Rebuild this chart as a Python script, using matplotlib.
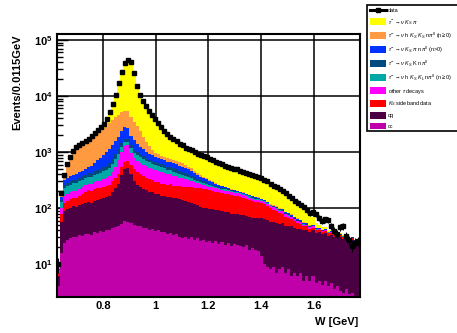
import matplotlib.pyplot as plt
import numpy as np
from matplotlib.ticker import MultipleLocator, LogLocator, FuncFormatter, NullFormatter
from matplotlib.patches import Patch, Rectangle
from matplotlib.lines import Line2D

plt.rcParams['font.family'] = ['Liberation Sans', 'DejaVu Sans']
plt.rcParams['mathtext.fontset'] = 'custom'
plt.rcParams['mathtext.rm'] = 'Liberation Sans'
plt.rcParams['mathtext.it'] = 'Liberation Sans:italic'
plt.rcParams['mathtext.bf'] = 'Liberation Sans:bold'

# binning: 100 bins of 0.0115 GeV
w_lo = 0.625
bin_w = 0.0115
n_bins = 100

# events per bin (stack order bottom -> top)
cc = [4, 16, 24, 27, 29, 31, 30, 33, 32, 34,
      35, 33, 37, 36, 39, 38, 41, 40, 44, 46,
      48, 53, 58, 56, 54, 51, 48, 47, 44, 45,
      41, 42, 39, 40, 37, 38, 35, 36, 33, 34,
      31, 29, 31, 28, 30, 27, 29, 26, 27, 25,
      26, 24, 26, 23, 25, 22, 24, 21, 23, 22,
      21, 20, 22, 18, 19, 18, 17, 14, 10, 9,
      8, 9, 7, 8, 9, 7, 8, 6, 7, 6,
      7, 5, 6, 5, 6, 4.5, 5, 4.2, 5, 4,
      4.5, 3.5, 4, 3.2, 3, 3.5, 2.8, 3, 2.6, 2.5]

qq = [2, 40, 65, 69, 72, 76, 74, 80, 85, 90,
      94, 92, 98, 104, 108, 112, 117, 125, 150, 180,
      222, 330, 440, 460, 360, 250, 210, 190, 175, 165,
      155, 150, 140, 138, 130, 128, 122, 125, 118, 115,
      112, 109, 104, 100, 96, 90, 86, 80, 73, 76,
      70, 72, 66, 68, 63, 64, 60, 58, 56, 57,
      53, 55, 51, 52, 49, 48, 50, 52, 55, 52,
      49, 47, 48, 44, 45, 41, 39, 41, 38, 37,
      36, 35, 35, 33, 34, 31, 32, 30, 31, 28,
      29, 27, 28, 27, 25, 26, 23, 24, 21, 22]

ks_sideband = [1, 22, 34, 37, 42, 46, 50, 55, 62, 70,
               80, 76, 82, 85, 80, 88, 87, 95, 110, 125,
               140, 150, 160, 165, 185, 195, 180, 165, 150, 140,
               130, 122, 112, 110, 106, 108, 102, 104, 100, 103,
               101, 102, 106, 110, 112, 115, 118, 120, 120, 115,
               112, 108, 105, 100, 98, 95, 92, 90, 86, 84,
               83, 78, 74, 70, 66, 63, 60, 57, 52, 48,
               42, 38, 34, 30, 26, 22, 19, 16, 13, 11,
               9, 7, 6, 5, 5, 4.5, 4, 4, 3.5, 3.5,
               3, 3, 2.5, 2.5, 2.5, 2, 2, 2, 2, 2.5]

other_tau = [0.5, 22, 40, 45, 48, 50, 52, 55, 58, 62,
             66, 70, 72, 78, 84, 92, 100, 118, 145, 200,
             300, 480, 650, 640, 380, 300, 270, 245, 225, 210,
             200, 192, 185, 175, 165, 155, 145, 138, 128, 118,
             108, 100, 88, 78, 66, 55, 46, 40, 37, 34,
             32, 30, 28, 27, 26, 25, 24, 22, 21, 20,
             19, 17, 15, 14, 13, 12, 12, 11, 11, 10,
             10, 9, 9, 8, 8, 7, 7, 6, 5, 4.5,
             4, 3.5, 3, 2.5, 2, 1.5, 1.2, 1, 1, 0.9,
             0.8, 0.8, 0.7, 0.7, 0.6, 0.6, 0.5, 0.5, 0.5, 0.5]

h_ks_kl = [0.3, 29, 65, 69, 72, 74, 76, 80, 84, 87,
           90, 95, 100, 108, 115, 125, 135, 150, 175, 205,
           230, 215, 195, 190, 188, 185, 175, 165, 155, 140,
           128, 118, 110, 102, 95, 88, 82, 76, 70, 62,
           56, 50, 45, 40, 36, 32, 28, 25, 23, 20,
           18, 16, 14, 13, 12, 11, 10, 9.5, 9, 8.5,
           8, 8, 7.5, 7.5, 7, 7, 6, 5, 4.5, 4,
           3, 3, 2.5, 2.5, 2.2, 2, 2, 1.8, 1.6, 1.4,
           1.2, 1, 1, 0.8, 0.7, 0.6, 0.5, 0.5, 0.4, 0.4,
           0.4, 0.3, 0.3, 0.3, 0.3, 0.3, 0.2, 0.2, 0.2, 0.2]

ks_k = [0.2, 9, 29, 33, 36, 38, 40, 43, 48, 53,
        58, 60, 63, 68, 72, 78, 85, 100, 130, 170,
        205, 215, 210, 200, 160, 130, 115, 105, 95, 88,
        82, 78, 75, 72, 70, 68, 66, 64, 62, 60,
        57, 55, 50, 45, 40, 35, 30, 26, 22, 19,
        16, 14, 12, 10, 9, 8, 7, 6, 5, 4.5,
        4, 4, 3.5, 3.5, 3, 3, 3, 2.5, 2.5, 2,
        2, 2, 2.5, 2.5, 3, 3, 3, 2.5, 2, 1.8,
        1.5, 1.2, 1, 0.8, 0.7, 0.5, 0.5, 0.5, 0.4, 0.4,
        0.4, 0.3, 0.3, 0.3, 0.3, 0.3, 0.2, 0.2, 0.2, 0.2]

ks_pi_npi0 = [0.2, 20, 59, 65, 72, 78, 84, 90, 98, 108,
              120, 145, 180, 230, 290, 360, 460, 520, 580, 650,
              720, 900, 1070, 1000, 650, 520, 420, 330, 270, 220,
              190, 170, 155, 145, 138, 132, 126, 120, 116, 112,
              108, 105, 98, 90, 80, 70, 60, 50, 43, 36,
              30, 24, 19, 15, 12, 10, 9, 8, 7, 6.5,
              6, 6, 6.5, 7, 7, 7, 6, 5, 4, 3,
              2, 2, 2.5, 3, 3, 3, 3, 2.5, 2.2, 2,
              1.8, 1.5, 1.5, 1.2, 1, 0.8, 0.5, 0.5, 0.4, 0.4,
              0.4, 0.3, 0.3, 0.3, 0.3, 0.3, 0.2, 0.2, 0.2, 0.2]

h_ks_ks = [1, 21, 56, 235, 390, 590, 750, 818, 890, 985,
           1040, 1230, 1360, 1480, 1640, 1750, 1830, 2150, 2450, 2650,
           2750, 2900, 2700, 2600, 2200, 1850, 1500, 1100, 750, 520,
           360, 240, 160, 140, 125, 115, 105, 100, 95, 90,
           85, 80, 70, 60, 50, 42, 35, 28, 22, 18,
           15, 12, 10, 8, 7, 6, 5, 4.5, 4, 3.5,
           3, 3, 2.5, 2.5, 2, 2, 2, 2, 2, 2,
           2, 2, 2, 2, 2, 2, 2, 2, 1.8, 1.8,
           1.6, 1.5, 1.5, 1.2, 1, 0.8, 0.6, 0.5, 0.4, 0.4,
           0.3, 0.3, 0.3, 0.3, 0.3, 0.2, 0.2, 0.2, 0.2, 0.2]

ks_pi = [0.8, 7, 17, 37, 52, 64, 74, 80, 88, 96,
         117, 149, 198, 266, 392, 517, 1035, 1832, 3456, 6244,
         12385, 21657, 33417, 38339, 36523, 22219, 12222, 8123, 6266, 5072,
         4084, 3458, 2914, 2388, 1954, 1538, 1307, 1097, 978, 856,
         752, 690, 608, 569, 560, 534, 501, 496, 484, 470,
         440, 424, 396, 367, 351, 334, 306, 294, 294, 284,
         271, 256, 245, 232, 223, 212, 199, 198, 183, 172,
         157, 139, 129, 124, 102, 99, 83, 73, 64, 60,
         53, 49, 36, 25, 18, 10, 6, 4, 3, 2,
         1.5, 1, 1, 1, 0.8, 0.8, 0.6, 0.6, 0.5, 0.5]

data = [10, 186, 389, 617, 813, 1047, 1230, 1334, 1445, 1585,
        1700, 1950, 2190, 2455, 2820, 3160, 3890, 5130, 7240, 10470,
        17000, 26900, 38900, 43650, 40700, 25700, 15140, 10470, 8130, 6600,
        5370, 4570, 3890, 3310, 2820, 2370, 2090, 1860, 1700, 1550,
        1410, 1320, 1200, 1120, 1070, 1000, 933, 891, 851, 813,
        759, 724, 676, 631, 603, 575, 537, 513, 505, 490,
        468, 447, 427, 407, 389, 372, 355, 347, 324, 302,
        275, 251, 237, 224, 200, 186, 166, 151, 135, 126,
        115, 105, 91, 81, 85, 78, 66, 59, 63, 62,
        48, 39, 35, 46, 48, 32, 27, 21, 24, 26]

components = [cc, qq, ks_sideband, other_tau, h_ks_kl, ks_k, ks_pi_npi0, h_ks_ks, ks_pi]
colors = ['#c000a8', '#4a0042', '#ff0000', '#ff00ff', '#00a8a8',
          '#004a80', '#0033ff', '#ff9a40', '#ffff00']
labels = ['cc', 'qq', r'$K_S$ sideband data', r'other $\tau$ decays',
          r'$\tau^-\!\rightarrow\nu$ h $K_S$ $K_L$ n$\pi^0$ (n$\geq$0)',
          r'$\tau^-\!\rightarrow\nu$ $K_S$ K n$\pi^0$',
          r'$\tau^-\!\rightarrow\nu$ $K_S$ $\pi$ n$\pi^0$ (n>0)',
          r'$\tau^-\!\rightarrow\nu$ h $K_S$ $K_S$ n$\pi^0$ (n$\geq$0)',
          r'$\tau^-\!\rightarrow\nu$ $K_S$ $\pi$']

edges = w_lo + bin_w * np.arange(n_bins + 1)
centers = 0.5 * (edges[:-1] + edges[1:])

fig = plt.figure(figsize=(4.57, 3.33), dpi=100)
ax = fig.add_axes([56.7 / 457, 1 - 297 / 333, (360 - 56.7) / 457, (297 - 34) / 333])

base = np.full(n_bins, 0.1)
for vals, col in zip(components, colors):
    top = base + np.array(vals, dtype=float)
    ax.stairs(top, edges, baseline=base, fill=True, color=col, linewidth=0)
    base = top

d = np.array(data, dtype=float)
ax.errorbar(centers, d, yerr=np.sqrt(d), xerr=bin_w / 2, fmt='s', color='black',
            markersize=3.0, elinewidth=0.7, capsize=0, zorder=5)

ax.set_yscale('log')
ax.set_xlim(w_lo, w_lo + bin_w * n_bins)
ax.set_ylim(2.6, 1.28e5)

ax.set_axisbelow(True)
ax.grid(True, which='major', color='black', linewidth=1.1)
ax.xaxis.set_major_locator(MultipleLocator(0.2))
ax.xaxis.set_minor_locator(MultipleLocator(0.04))
ax.yaxis.set_major_locator(LogLocator(base=10, numticks=10))
ax.yaxis.set_minor_locator(LogLocator(base=10, subs=np.arange(2, 10), numticks=20))
ax.yaxis.set_minor_formatter(NullFormatter())
ax.yaxis.set_major_formatter(FuncFormatter(lambda v, p: r'$\mathbf{10^{%d}}$' % round(np.log10(v))))
ax.xaxis.set_major_formatter(FuncFormatter(lambda v, p: ('%g' % round(v, 2))))
ax.tick_params(which='both', direction='in', top=False, right=False, labelsize=8, width=1)
ax.tick_params(which='major', length=8, pad=3)
ax.tick_params(which='minor', length=4)
for lab in ax.get_xticklabels():
    lab.set_fontweight('bold')
for s in ax.spines.values():
    s.set_linewidth(1.5)

fig.text(17 / 457, 1 - 34 / 333, 'Events/0.0115GeV', rotation=90, ha='center', va='top',
         fontsize=8, fontweight='bold')
fig.text(358 / 457, 1 - 322 / 333, 'W [GeV]', ha='right', va='center',
         fontsize=8, fontweight='bold')

# legend box runs off the right edge of the canvas, as in the original
fig.patches.append(Rectangle((367 / 457, 1 - 131 / 333), 0.4, 126 / 333,
                             transform=fig.transFigure, fill=True, facecolor='white',
                             edgecolor='black', linewidth=1.2, zorder=4))

handles = [Line2D([0], [0], color='black', marker='s', markersize=3.5, linewidth=2.2)]
leg_labels = ['data']
for col, lab in zip(colors[::-1], labels[::-1]):
    handles.append(Patch(facecolor=col, edgecolor='none'))
    leg_labels.append(lab)
leg = fig.legend(handles, leg_labels, loc='upper left', bbox_to_anchor=(368 / 457, 1 - 5.5 / 333),
                 fontsize=4.0, frameon=False, borderpad=0.3, labelspacing=0.68,
                 handlelength=2.9, handleheight=1.5, handletextpad=0.35, borderaxespad=0)
leg.set_zorder(5)

fig.savefig('out.png', dpi=100)
